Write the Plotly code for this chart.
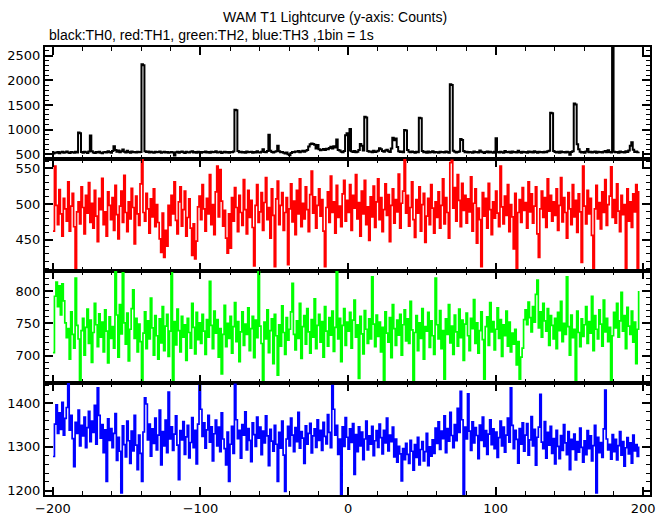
import plotly.graph_objects as go
from plotly.subplots import make_subplots

# Time bins (1 s) start at -200 s
t_start = -200

th0 = [
    510, 532, 528, 541, 519, 535, 547, 526, 538, 552, 530, 521, 544, 536, 529, 548, 533, 940, 925, 541,
    527, 546, 538, 524, 551, 880, 560, 532, 521, 540, 534, 547, 529, 518, 537, 545, 531, 556, 543, 528,
    562, 660, 585, 548, 571, 539, 556, 592, 547, 533, 568, 541, 529, 552, 538, 545, 531, 549, 536, 542,
    2330, 2310, 560, 541, 553, 530, 547, 538, 525, 549, 536, 544, 552, 528, 539, 546, 533, 541, 529, 537,
    544, 531, 472, 538, 549, 527, 542, 553, 535, 524, 546, 539, 531, 548, 557, 533, 541, 526, 550, 537,
    529, 545, 538, 552, 534, 541, 527, 548, 536, 543, 558, 531, 539, 546, 524, 537, 549, 533, 542, 528,
    540, 535, 551, 1405, 1390, 562, 538, 547, 531, 544, 529, 552, 536, 541, 548, 527, 545, 533, 556, 539,
    532, 547, 598, 541, 536, 561, 895, 570, 543, 531, 548, 556, 672, 560, 538, 544, 529, 512, 533, 498,
    476, 521, 543, 536, 552, 547, 561, 538, 555, 570, 549, 566, 583, 652, 698, 716, 705, 690, 612, 684,
    596, 578, 590, 603, 584, 611, 597, 625, 648, 612, 660, 635, 795, 584, 571, 548, 539, 561, 885, 925,
    572, 1012, 556, 543, 561, 538, 549, 582, 705, 668, 574, 1262, 1245, 561, 546, 552, 538, 567, 544, 553,
    570, 618, 596, 563, 548, 571, 588, 559, 543, 612, 835, 782, 815, 646, 558, 541, 552, 537, 992, 978,
    584, 549, 536, 553, 541, 528, 546, 535, 1242, 1228, 561, 538, 547, 529, 552, 534, 543, 556, 531, 545,
    538, 527, 549, 536, 544, 531, 553, 540, 528, 1922, 1905, 568, 546, 533, 541, 552, 805, 788, 562, 539,
    548, 531, 544, 537, 526, 551, 539, 545, 533, 572, 548, 536, 524, 541, 553, 530, 546, 538, 527, 549,
    822, 545, 532, 549, 538, 526, 561, 541, 535, 547, 529, 552, 538, 544, 531, 566, 540, 527, 548, 536,
    543, 529, 551, 537, 546, 532, 558, 540, 528, 549, 536, 545, 531, 547, 538, 556, 566, 1342, 1330, 562,
    541, 534, 548, 526, 552, 539, 545, 531, 549, 536, 488, 543, 557, 1532, 1512, 702, 598, 547, 531, 544,
    529, 552, 603, 538, 546, 533, 541, 555, 527, 548, 536, 544, 531, 549, 562, 538, 576, 545, 532, 2720,
    548, 536, 542, 529, 551, 538, 545, 533, 557, 541, 572, 668, 742, 588, 541, 553, 536, 548,
]

th1 = [
    462, 553, 498, 471, 520, 486, 455, 508, 493, 476, 531, 462, 497, 515, 468, 410, 489, 503, 472, 524,
    495, 458, 512, 487, 530, 474, 501, 466, 519, 483, 447, 508, 492, 536, 471, 489, 455, 517, 498, 478,
    509, 463, 526, 485, 451, 497, 518, 474, 540, 488, 461, 503, 479, 522, 495, 444, 511, 486, 470, 528,
    562, 488, 476, 515, 493, 459, 507, 482, 521, 468, 499, 474, 451, 432, 487, 425, 463, 441, 498, 470,
    512, 486, 531, 477, 458, 503, 524, 469, 492, 518, 455, 481, 507, 466, 428, 472, 423, 448, 496, 511,
    478, 527, 493, 462, 508, 486, 541, 471, 499, 457, 517, 553, 482, 548, 504, 469, 491, 452, 431, 486,
    438, 509, 476, 523, 495, 461, 512, 488, 470, 534, 492, 458, 519, 481, 505, 467, 413, 498, 527, 474,
    489, 516, 463, 502, 537, 478, 495, 452, 521, 484, 412, 507, 532, 471, 498, 516, 463, 488, 509, 415,
    493, 528, 475, 504, 457, 519, 486, 535, 468, 501, 479, 524, 492, 461, 513, 546, 487, 510, 466, 498,
    521, 483, 506, 462, 412, 495, 517, 474, 539, 488, 503, 459, 526, 481, 497, 468, 514, 533, 476, 505,
    488, 527, 463, 512, 494, 541, 479, 502, 455, 518, 486, 533, 471, 496, 449, 510, 482, 525, 467, 503,
    535, 478, 509, 461, 492, 528, 484, 513, 447, 498, 521, 473, 506, 489, 542, 466, 501, 518, 562, 487,
    512, 469, 495, 531, 478, 453, 506, 487, 524, 462, 499, 515, 446, 483, 508, 471, 527, 494, 459, 503,
    481, 517, 466, 498, 535, 472, 509, 488, 452, 558, 561, 494, 523, 476, 541, 505, 468, 529, 491, 512,
    473, 507, 489, 538, 462, 501, 521, 445, 494, 478, 412, 516, 483, 508, 466, 529, 492, 457, 503, 480,
    518, 487, 468, 553, 496, 472, 511, 484, 527, 461, 499, 482, 437, 515, 410, 488, 506, 474, 523, 491,
    502, 466, 531, 489, 514, 473, 497, 524, 458, 425, 493, 518, 481, 509, 467, 535, 490, 512, 476, 503,
    484, 521, 463, 498, 537, 475, 509, 488, 452, 516, 493, 471, 527, 482, 505, 460, 514, 489, 418, 553,
    497, 472, 519, 486, 508, 456, 410, 493, 526, 479, 502, 465, 517, 488, 534, 470, 499, 511, 552, 481,
    506, 473, 528, 490, 461, 512, 485, 499, 410, 521, 476, 503, 467, 514, 489, 527, 405, 518,
]

th2 = [
    705, 792, 814, 776, 808, 763, 811, 785, 751, 728, 742, 695, 768, 733, 712, 820, 747, 726, 662, 739,
    758, 701, 744, 772, 719, 755, 690, 736, 781, 748, 714, 765, 729, 752, 706, 771, 738, 689, 760, 727,
    745, 712, 830, 763, 698, 779, 734, 828, 751, 718, 766, 692, 741, 773, 802, 727, 758, 706, 749, 722,
    660, 735, 768, 711, 754, 726, 789, 743, 701, 762, 731, 695, 757, 720, 776, 708, 746, 764, 699, 738,
    828, 661, 753, 717, 772, 739, 706, 761, 729, 748, 693, 758, 736, 712, 781, 744, 703, 767, 725, 751,
    719, 764, 738, 702, 756, 729, 815, 747, 711, 769, 735, 756, 698, 742, 672, 733, 778, 714, 750, 727,
    761, 704, 745, 782, 722, 753, 691, 737, 768, 716, 749, 733, 774, 708, 742, 761, 697, 755, 728, 830,
    746, 719, 660, 752, 726, 771, 705, 739, 757, 688, 764, 731, 670, 748, 715, 777, 736, 702, 759, 724,
    741, 768, 812, 733, 709, 754, 727, 781, 696, 745, 762, 718, 773, 737, 704, 756, 729, 788, 711, 747,
    764, 721, 753, 698, 776, 738, 715, 759, 732, 769, 707, 744, 830, 726, 758, 691, 747, 773, 716, 752,
    738, 767, 712, 755, 786, 729, 748, 665, 761, 734, 703, 770, 741, 719, 757, 726, 822, 749, 714, 763,
    730, 752, 706, 744, 660, 768, 735, 721, 759, 697, 779, 742, 716, 755, 732, 764, 701, 748, 771, 723,
    757, 719, 784, 740, 660, 736, 762, 708, 751, 727, 773, 695, 745, 738, 767, 713, 754, 731, 702, 820,
    748, 726, 770, 711, 739, 664, 757, 733, 779, 720, 746, 702, 763, 737, 715, 772, 728, 755, 693, 749,
    766, 731, 708, 758, 742, 787, 719, 751, 704, 739, 768, 725, 664, 745, 760, 716, 782, 737, 753, 709,
    741, 774, 727, 756, 699, 748, 731, 769, 715, 752, 706, 735, 718, 741, 686, 722, 664, 698, 712, 756,
    771, 748, 783, 759, 737, 776, 752, 795, 817, 743, 768, 729, 781, 754, 738, 773, 716, 762, 747, 726,
    758, 711, 767, 739, 784, 722, 750, 733, 822, 745, 701, 763, 728, 741, 660, 769, 736, 714, 757, 730,
    748, 776, 719, 753, 735, 792, 708, 762, 741, 726, 771, 749, 715, 786, 737, 758, 722, 744, 660, 731,
    767, 743, 781, 729, 754, 798, 738, 762, 711, 775, 746, 733, 769, 721, 752, 688, 741, 800,
]

th3 = [
    1278, 1352, 1396, 1331, 1378, 1340, 1402, 1327, 1365, 1390, 1445, 1338, 1372, 1319, 1255, 1356, 1331, 1384, 1302, 1349,
    1325, 1368, 1298, 1344, 1381, 1312, 1359, 1333, 1395, 1306, 1435, 1372, 1320, 1351, 1287, 1339, 1221, 1364, 1315, 1342,
    1298, 1331, 1376, 1269, 1322, 1290, 1195, 1348, 1305, 1277, 1359, 1314, 1262, 1336, 1291, 1372, 1304, 1248, 1327, 1285,
    1221, 1334, 1412, 1398, 1316, 1352, 1279, 1341, 1308, 1366, 1293, 1327, 1384, 1259, 1335, 1302, 1361, 1287, 1425, 1318,
    1346, 1292, 1329, 1371, 1304, 1225, 1337, 1316, 1358, 1283, 1323, 1349, 1275, 1310, 1367, 1298, 1338, 1261, 1352, 1440,
    1386, 1324, 1355, 1297, 1339, 1372, 1311, 1346, 1268, 1330, 1361, 1302, 1345, 1289, 1378, 1318, 1296, 1259, 1334, 1221,
    1306, 1347, 1285, 1443, 1362, 1319, 1338, 1274, 1351, 1327, 1380, 1293, 1342, 1315, 1266, 1355, 1328, 1301, 1368, 1320,
    1345, 1282, 1336, 1309, 1371, 1325, 1257, 1340, 1313, 1290, 1349, 1306, 1221, 1333, 1297, 1359, 1281, 1198, 1318, 1347,
    1302, 1366, 1327, 1289, 1344, 1312, 1379, 1297, 1335, 1320, 1262, 1348, 1306, 1331, 1354, 1286, 1325, 1341, 1299, 1362,
    1315, 1338, 1292, 1356, 1324, 1307, 1374, 1333, 1298, 1440, 1386, 1327, 1349, 1283, 1318, 1190, 1346, 1301, 1367, 1322,
    1295, 1341, 1310, 1353, 1237, 1328, 1289, 1346, 1302, 1334, 1271, 1318, 1359, 1293, 1325, 1306, 1347, 1280, 1314, 1337,
    1299, 1352, 1321, 1284, 1338, 1309, 1366, 1291, 1327, 1312, 1345, 1277, 1318, 1265, 1301, 1284, 1222, 1296, 1271, 1308,
    1283, 1262, 1315, 1290, 1247, 1305, 1276, 1322, 1259, 1294, 1312, 1268, 1289, 1331, 1257, 1300, 1279, 1316, 1285, 1343,
    1308, 1357, 1294, 1336, 1319, 1371, 1287, 1342, 1313, 1379, 1326, 1298, 1351, 1314, 1388, 1333, 1427, 1362, 1190, 1345,
    1318, 1421, 1336, 1292, 1357, 1309, 1344, 1326, 1273, 1350, 1315, 1368, 1301, 1337, 1283, 1329, 1362, 1305, 1341, 1296,
    1334, 1276, 1321, 1359, 1302, 1345, 1288, 1327, 1366, 1311, 1435, 1349, 1296, 1338, 1317, 1263, 1342, 1306, 1355, 1290,
    1327, 1353, 1281, 1316, 1369, 1302, 1340, 1258, 1322, 1345, 1420, 1311, 1296, 1358, 1274, 1333, 1304, 1347, 1285, 1319,
    1261, 1338, 1301, 1273, 1326, 1292, 1351, 1309, 1282, 1335, 1248, 1317, 1294, 1329, 1270, 1312, 1288, 1343, 1299, 1265,
    1314, 1282, 1337, 1296, 1325, 1268, 1303, 1349, 1195, 1322, 1287, 1310, 1276, 1341, 1430, 1318, 1293, 1306, 1272, 1328,
    1289, 1317, 1270, 1303, 1335, 1281, 1312, 1256, 1298, 1321, 1284, 1309, 1263, 1327, 1291, 1305, 1278, 1301,
]

series = [th0, th1, th2, th3]
colors = ["#000000", "#ff0000", "#00ff00", "#0000ff"]
widths = [2.0, 1.7, 1.7, 1.7]
y_ranges = [[400, 2680], [406, 563], [658, 831], [1190, 1446]]
y_dticks = [500, 50, 50, 100]
y_minor = [100, 10, 10, 20]
x_ticks = [-200, -100, 0, 100, 200]

fig = make_subplots(rows=4, cols=1, shared_xaxes=True, vertical_spacing=0)

for i, (vals, col, w) in enumerate(zip(series, colors, widths)):
    xs = [t_start + k for k in range(len(vals))]
    fig.add_trace(
        go.Scatter(x=xs, y=vals, mode="lines", line=dict(color=col, width=w, shape="hv"),
                   showlegend=False, hoverinfo="skip"),
        row=i + 1, col=1,
    )

tick_font = dict(family="DejaVu Sans", size=13, color="black")

for i in range(4):
    fig.update_yaxes(
        range=y_ranges[i], dtick=y_dticks[i], tick0=0, automargin=False,
        showline=True, linecolor="black", linewidth=2, mirror="ticks",
        ticks="inside", ticklen=8, tickwidth=2, tickcolor="black",
        minor=dict(dtick=y_minor[i], ticks="inside", ticklen=4, tickwidth=1, tickcolor="black"),
        showgrid=False, zeroline=False, tickfont=tick_font,
        row=i + 1, col=1,
    )
    fig.update_xaxes(
        range=[-205.4, 204.7], tickvals=x_ticks, automargin=False,
        showline=True, linecolor="black", linewidth=2, mirror="ticks",
        ticks="inside", ticklen=8, tickwidth=2, tickcolor="black",
        minor=dict(dtick=20, tick0=0, ticks="inside", ticklen=4, tickwidth=1, tickcolor="black"),
        showgrid=False, zeroline=False, tickfont=tick_font,
        row=i + 1, col=1,
    )

plot_w = 669 - 45 - 19
plot_h = 515 - 47 - 20
fig.update_layout(
    width=669, height=515,
    margin=dict(l=45, r=19, t=47, b=20, autoexpand=False),
    paper_bgcolor="white", plot_bgcolor="white",
)
fig.add_annotation(text="WAM T1 Lightcurve (y-axis: Counts)", xref="paper", yref="paper",
                   x=(334.5 - 45) / plot_w, y=1 + (47 - 17) / plot_h,
                   xanchor="center", yanchor="middle", showarrow=False,
                   font=dict(family="Liberation Sans", size=14, color="black"))
fig.add_annotation(text="black:TH0, red:TH1, green:TH2, blue:TH3 ,1bin = 1s", xref="paper", yref="paper",
                   x=(47 - 45) / plot_w, y=1 + (47 - 35) / plot_h,
                   xanchor="left", yanchor="middle", showarrow=False,
                   font=dict(family="Liberation Sans", size=14, color="black"))

fig.write_html("out.html", config={"displayModeBar": False},
               post_script="document.body.style.margin='0';document.body.style.overflow='hidden';")
